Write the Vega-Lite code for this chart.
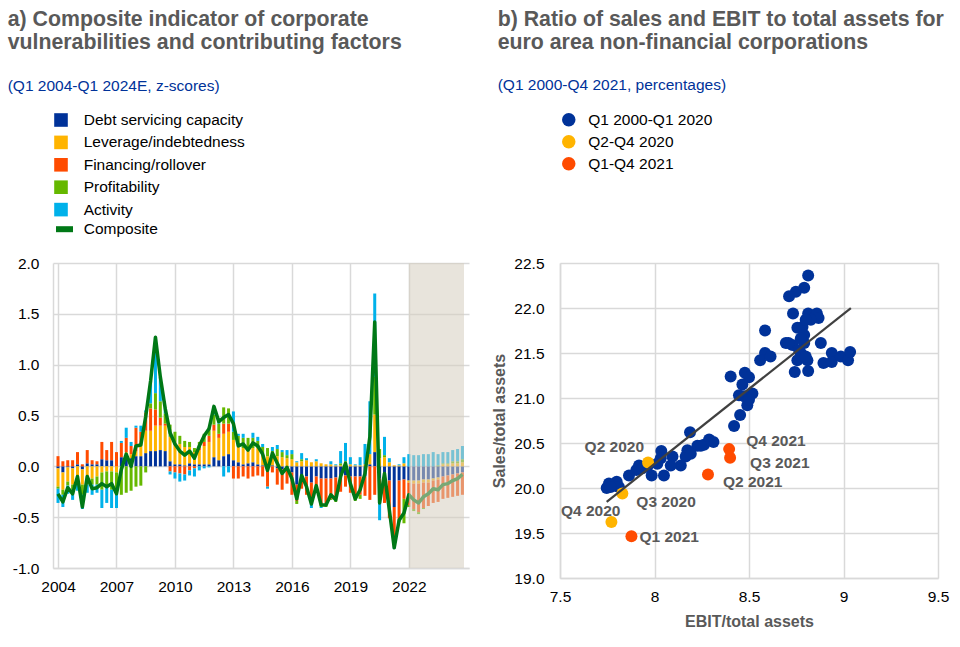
{
  "$schema": "https://vega.github.io/schema/vega-lite/v6.json",
  "background": "white",
  "padding": {"left": 7, "top": 8, "right": 5, "bottom": 5},
  "columns": 2,
  "align": "none",
  "spacing": 22,
  "resolve": {
    "scale": {"color": "independent", "stroke": "independent", "x": "independent", "y": "independent"},
    "legend": {"color": "independent", "stroke": "independent"}
  },
  "datasets": {
    "factors": [
      {"key": "debt", "factor": "Debt servicing capacity", "ord": 1},
      {"key": "lev", "factor": "Leverage/indebtedness", "ord": 2},
      {"key": "fin", "factor": "Financing/rollover", "ord": 3},
      {"key": "prof", "factor": "Profitability", "ord": 4},
      {"key": "act", "factor": "Activity", "ord": 5}
    ],
    "quarters": [
      {"year":2004,"debt":-0.02,"lev":-0.18,"fin":0.10,"prof":-0.02,"act":-0.14,"comp":-0.27},
      {"year":2004.25,"debt":-0.06,"lev":-0.17,"fin":0.05,"prof":-0.05,"act":-0.12,"comp":-0.35},
      {"year":2004.5,"debt":-0.01,"lev":-0.14,"fin":0.06,"prof":-0.04,"act":-0.08,"comp":-0.21},
      {"year":2004.75,"debt":-0.02,"lev":-0.16,"fin":0.06,"prof":-0.05,"act":-0.10,"comp":-0.27},
      {"year":2005,"debt":0.02,"lev":-0.14,"fin":0.12,"prof":-0.02,"act":-0.08,"comp":-0.10},
      {"year":2005.25,"debt":-0.03,"lev":-0.15,"fin":0.02,"prof":-0.10,"act":-0.14,"comp":-0.40},
      {"year":2005.5,"debt":0.03,"lev":-0.14,"fin":0.13,"prof":-0.04,"act":-0.08,"comp":-0.10},
      {"year":2005.75,"debt":0.02,"lev":-0.12,"fin":0.04,"prof":-0.06,"act":-0.10,"comp":-0.22},
      {"year":2006,"debt":0.02,"lev":-0.10,"fin":0.03,"prof":-0.08,"act":-0.08,"comp":-0.21},
      {"year":2006.25,"debt":0.07,"lev":-0.06,"fin":0.17,"prof":-0.17,"act":-0.18,"comp":-0.17},
      {"year":2006.5,"debt":0.06,"lev":-0.05,"fin":0.10,"prof":-0.14,"act":-0.17,"comp":-0.20},
      {"year":2006.75,"debt":0.06,"lev":-0.05,"fin":0.18,"prof":-0.18,"act":-0.18,"comp":-0.17},
      {"year":2007,"debt":0.00,"lev":-0.06,"fin":0.14,"prof":-0.17,"act":-0.18,"comp":-0.27},
      {"year":2007.25,"debt":0.09,"lev":0.00,"fin":0.14,"prof":-0.28,"act":0.02,"comp":-0.03},
      {"year":2007.5,"debt":0.09,"lev":0.05,"fin":0.14,"prof":-0.26,"act":0.10,"comp":0.12},
      {"year":2007.75,"debt":0.08,"lev":0.04,"fin":0.08,"prof":-0.24,"act":0.04,"comp":0.00},
      {"year":2008,"debt":0.10,"lev":0.05,"fin":0.23,"prof":-0.20,"act":0.02,"comp":0.20},
      {"year":2008.25,"debt":0.10,"lev":0.12,"fin":0.12,"prof":-0.19,"act":0.06,"comp":0.21},
      {"year":2008.5,"debt":0.13,"lev":0.22,"fin":0.18,"prof":-0.06,"act":0.02,"comp":0.49},
      {"year":2008.75,"debt":0.15,"lev":0.20,"fin":0.22,"prof":0.05,"act":0.22,"comp":0.84},
      {"year":2009,"debt":0.15,"lev":0.25,"fin":0.16,"prof":0.16,"act":0.55,"comp":1.27},
      {"year":2009.25,"debt":0.16,"lev":0.24,"fin":0.08,"prof":0.16,"act":0.24,"comp":0.88},
      {"year":2009.5,"debt":0.15,"lev":0.25,"fin":0.02,"prof":0.10,"act":0.05,"comp":0.57},
      {"year":2009.75,"debt":0.05,"lev":0.24,"fin":-0.05,"prof":0.12,"act":-0.03,"comp":0.33},
      {"year":2010,"debt":0.02,"lev":0.22,"fin":-0.06,"prof":0.10,"act":-0.06,"comp":0.22},
      {"year":2010.25,"debt":0.02,"lev":0.20,"fin":-0.07,"prof":0.08,"act":-0.08,"comp":0.15},
      {"year":2010.5,"debt":0.01,"lev":0.18,"fin":-0.08,"prof":0.06,"act":-0.06,"comp":0.11},
      {"year":2010.75,"debt":0.03,"lev":0.16,"fin":-0.04,"prof":0.05,"act":-0.05,"comp":0.15},
      {"year":2011,"debt":0.02,"lev":0.12,"fin":-0.02,"prof":0.04,"act":-0.08,"comp":0.08},
      {"year":2011.25,"debt":0.02,"lev":0.14,"fin":0.02,"prof":0.06,"act":-0.04,"comp":0.20},
      {"year":2011.5,"debt":0.02,"lev":0.18,"fin":0.04,"prof":0.08,"act":-0.02,"comp":0.30},
      {"year":2011.75,"debt":0.02,"lev":0.22,"fin":0.06,"prof":0.08,"act":-0.01,"comp":0.37},
      {"year":2012,"debt":0.09,"lev":0.26,"fin":0.06,"prof":0.10,"act":0.08,"comp":0.59},
      {"year":2012.25,"debt":0.06,"lev":0.22,"fin":0.04,"prof":0.10,"act":0.02,"comp":0.44},
      {"year":2012.5,"debt":0.10,"lev":0.22,"fin":0.10,"prof":0.16,"act":-0.10,"comp":0.48},
      {"year":2012.75,"debt":0.12,"lev":0.22,"fin":0.08,"prof":0.15,"act":-0.06,"comp":0.51},
      {"year":2013,"debt":0.06,"lev":0.20,"fin":-0.12,"prof":0.08,"act":0.20,"comp":0.42},
      {"year":2013.25,"debt":0.04,"lev":0.16,"fin":-0.12,"prof":0.10,"act":0.02,"comp":0.20},
      {"year":2013.5,"debt":0.02,"lev":0.16,"fin":-0.10,"prof":0.10,"act":0.04,"comp":0.22},
      {"year":2013.75,"debt":0.03,"lev":0.14,"fin":-0.12,"prof":0.11,"act":0.00,"comp":0.16},
      {"year":2014,"debt":0.04,"lev":0.14,"fin":-0.10,"prof":0.10,"act":0.05,"comp":0.23},
      {"year":2014.25,"debt":0.02,"lev":0.16,"fin":-0.09,"prof":0.07,"act":0.04,"comp":0.20},
      {"year":2014.5,"debt":0.01,"lev":0.12,"fin":-0.10,"prof":0.06,"act":0.03,"comp":0.12},
      {"year":2014.75,"debt":0.00,"lev":0.10,"fin":-0.20,"prof":0.08,"act":-0.02,"comp":-0.04},
      {"year":2015,"debt":0.01,"lev":0.10,"fin":-0.06,"prof":0.04,"act":0.04,"comp":0.13},
      {"year":2015.25,"debt":-0.02,"lev":0.10,"fin":-0.16,"prof":0.07,"act":0.04,"comp":0.03},
      {"year":2015.5,"debt":-0.03,"lev":0.09,"fin":-0.20,"prof":0.05,"act":0.02,"comp":-0.07},
      {"year":2015.75,"debt":-0.04,"lev":0.08,"fin":-0.13,"prof":0.03,"act":0.05,"comp":-0.01},
      {"year":2016,"debt":-0.06,"lev":0.07,"fin":-0.22,"prof":0.05,"act":0.04,"comp":-0.12},
      {"year":2016.25,"debt":-0.18,"lev":0.04,"fin":-0.16,"prof":-0.03,"act":0.01,"comp":-0.32},
      {"year":2016.5,"debt":-0.12,"lev":0.05,"fin":-0.10,"prof":0.02,"act":0.06,"comp":-0.09},
      {"year":2016.75,"debt":-0.10,"lev":0.06,"fin":-0.18,"prof":0.00,"act":0.02,"comp":-0.20},
      {"year":2017,"debt":-0.16,"lev":0.04,"fin":-0.20,"prof":0.00,"act":-0.05,"comp":-0.37},
      {"year":2017.25,"debt":-0.10,"lev":0.05,"fin":-0.16,"prof":0.00,"act":0.02,"comp":-0.19},
      {"year":2017.5,"debt":-0.12,"lev":0.03,"fin":-0.26,"prof":-0.02,"act":-0.01,"comp":-0.38},
      {"year":2017.75,"debt":-0.12,"lev":0.02,"fin":-0.26,"prof":-0.02,"act":0.00,"comp":-0.38},
      {"year":2018,"debt":-0.12,"lev":0.02,"fin":-0.20,"prof":-0.01,"act":0.03,"comp":-0.28},
      {"year":2018.25,"debt":-0.11,"lev":0.01,"fin":-0.22,"prof":-0.02,"act":0.01,"comp":-0.33},
      {"year":2018.5,"debt":-0.10,"lev":0.01,"fin":-0.15,"prof":0.02,"act":0.12,"comp":-0.10},
      {"year":2018.75,"debt":-0.09,"lev":0.02,"fin":-0.11,"prof":0.03,"act":0.18,"comp":0.03},
      {"year":2019,"debt":-0.10,"lev":0.02,"fin":-0.16,"prof":0.00,"act":0.07,"comp":-0.17},
      {"year":2019.25,"debt":-0.10,"lev":0.01,"fin":-0.20,"prof":-0.04,"act":0.01,"comp":-0.32},
      {"year":2019.5,"debt":-0.10,"lev":0.01,"fin":-0.18,"prof":-0.04,"act":0.08,"comp":-0.23},
      {"year":2019.75,"debt":-0.10,"lev":0.02,"fin":-0.19,"prof":0.00,"act":0.20,"comp":-0.07},
      {"year":2020,"debt":0.02,"lev":0.10,"fin":-0.33,"prof":0.00,"act":0.52,"comp":0.29},
      {"year":2020.25,"debt":0.14,"lev":0.37,"fin":-0.28,"prof":0.37,"act":0.82,"comp":1.42},
      {"year":2020.5,"debt":-0.12,"lev":0.08,"fin":-0.10,"prof":0.09,"act":-0.31,"comp":-0.36},
      {"year":2020.75,"debt":-0.14,"lev":0.09,"fin":-0.22,"prof":0.02,"act":0.18,"comp":-0.07},
      {"year":2021,"debt":-0.14,"lev":0.04,"fin":-0.37,"prof":0.00,"act":0.04,"comp":-0.43},
      {"year":2021.25,"debt":-0.40,"lev":0.01,"fin":-0.38,"prof":-0.01,"act":-0.02,"comp":-0.80},
      {"year":2021.5,"debt":-0.14,"lev":0.01,"fin":-0.38,"prof":-0.03,"act":0.01,"comp":-0.53},
      {"year":2021.75,"debt":-0.13,"lev":0.03,"fin":-0.19,"prof":-0.24,"act":0.06,"comp":-0.46},
      {"year":2022,"debt":-0.14,"lev":-0.02,"fin":-0.22,"prof":-0.02,"act":0.12,"comp":-0.28},
      {"year":2022.25,"debt":-0.14,"lev":-0.03,"fin":-0.25,"prof":-0.02,"act":0.11,"comp":-0.33},
      {"year":2022.5,"debt":-0.14,"lev":-0.03,"fin":-0.28,"prof":-0.02,"act":0.11,"comp":-0.36},
      {"year":2022.75,"debt":-0.13,"lev":-0.03,"fin":-0.25,"prof":-0.01,"act":0.12,"comp":-0.30},
      {"year":2023,"debt":-0.13,"lev":-0.03,"fin":-0.23,"prof":0.00,"act":0.12,"comp":-0.27},
      {"year":2023.25,"debt":-0.12,"lev":-0.02,"fin":-0.22,"prof":0.00,"act":0.14,"comp":-0.22},
      {"year":2023.5,"debt":-0.11,"lev":-0.02,"fin":-0.22,"prof":0.01,"act":0.11,"comp":-0.23},
      {"year":2023.75,"debt":-0.10,"lev":0.02,"fin":-0.22,"prof":0.01,"act":0.11,"comp":-0.18},
      {"year":2024,"debt":-0.09,"lev":0.02,"fin":-0.22,"prof":0.01,"act":0.11,"comp":-0.17},
      {"year":2024.25,"debt":-0.08,"lev":0.03,"fin":-0.22,"prof":0.02,"act":0.11,"comp":-0.14},
      {"year":2024.5,"debt":-0.07,"lev":0.03,"fin":-0.22,"prof":0.02,"act":0.12,"comp":-0.12},
      {"year":2024.75,"debt":-0.06,"lev":0.04,"fin":-0.22,"prof":0.03,"act":0.13,"comp":-0.08}
    ],
    "scatter": [
      {"ebit":8.813,"sales":22.36,"period":"Q1 2000-Q1 2020"},
      {"ebit":8.792,"sales":22.225,"period":"Q1 2000-Q1 2020"},
      {"ebit":8.748,"sales":22.18,"period":"Q1 2000-Q1 2020"},
      {"ebit":8.712,"sales":22.13,"period":"Q1 2000-Q1 2020"},
      {"ebit":8.733,"sales":21.94,"period":"Q1 2000-Q1 2020"},
      {"ebit":8.813,"sales":21.94,"period":"Q1 2000-Q1 2020"},
      {"ebit":8.859,"sales":21.94,"period":"Q1 2000-Q1 2020"},
      {"ebit":8.868,"sales":21.89,"period":"Q1 2000-Q1 2020"},
      {"ebit":8.827,"sales":21.87,"period":"Q1 2000-Q1 2020"},
      {"ebit":8.783,"sales":21.79,"period":"Q1 2000-Q1 2020"},
      {"ebit":8.756,"sales":21.78,"period":"Q1 2000-Q1 2020"},
      {"ebit":8.792,"sales":21.70,"period":"Q1 2000-Q1 2020"},
      {"ebit":8.585,"sales":21.75,"period":"Q1 2000-Q1 2020"},
      {"ebit":8.880,"sales":21.61,"period":"Q1 2000-Q1 2020"},
      {"ebit":8.695,"sales":21.61,"period":"Q1 2000-Q1 2020"},
      {"ebit":8.730,"sales":21.59,"period":"Q1 2000-Q1 2020"},
      {"ebit":8.792,"sales":21.61,"period":"Q1 2000-Q1 2020"},
      {"ebit":8.774,"sales":21.50,"period":"Q1 2000-Q1 2020"},
      {"ebit":8.756,"sales":21.42,"period":"Q1 2000-Q1 2020"},
      {"ebit":8.809,"sales":21.42,"period":"Q1 2000-Q1 2020"},
      {"ebit":8.742,"sales":21.29,"period":"Q1 2000-Q1 2020"},
      {"ebit":8.813,"sales":21.30,"period":"Q1 2000-Q1 2020"},
      {"ebit":8.894,"sales":21.39,"period":"Q1 2000-Q1 2020"},
      {"ebit":8.938,"sales":21.50,"period":"Q1 2000-Q1 2020"},
      {"ebit":8.938,"sales":21.40,"period":"Q1 2000-Q1 2020"},
      {"ebit":8.986,"sales":21.46,"period":"Q1 2000-Q1 2020"},
      {"ebit":9.024,"sales":21.42,"period":"Q1 2000-Q1 2020"},
      {"ebit":9.035,"sales":21.51,"period":"Q1 2000-Q1 2020"},
      {"ebit":8.585,"sales":21.50,"period":"Q1 2000-Q1 2020"},
      {"ebit":8.559,"sales":21.42,"period":"Q1 2000-Q1 2020"},
      {"ebit":8.614,"sales":21.46,"period":"Q1 2000-Q1 2020"},
      {"ebit":8.403,"sales":21.24,"period":"Q1 2000-Q1 2020"},
      {"ebit":8.478,"sales":21.28,"period":"Q1 2000-Q1 2020"},
      {"ebit":8.500,"sales":21.23,"period":"Q1 2000-Q1 2020"},
      {"ebit":8.465,"sales":21.15,"period":"Q1 2000-Q1 2020"},
      {"ebit":8.447,"sales":21.03,"period":"Q1 2000-Q1 2020"},
      {"ebit":8.518,"sales":21.05,"period":"Q1 2000-Q1 2020"},
      {"ebit":8.491,"sales":20.92,"period":"Q1 2000-Q1 2020"},
      {"ebit":8.453,"sales":20.81,"period":"Q1 2000-Q1 2020"},
      {"ebit":8.421,"sales":20.69,"period":"Q1 2000-Q1 2020"},
      {"ebit":8.188,"sales":20.62,"period":"Q1 2000-Q1 2020"},
      {"ebit":8.289,"sales":20.54,"period":"Q1 2000-Q1 2020"},
      {"ebit":8.312,"sales":20.51,"period":"Q1 2000-Q1 2020"},
      {"ebit":8.262,"sales":20.48,"period":"Q1 2000-Q1 2020"},
      {"ebit":8.227,"sales":20.47,"period":"Q1 2000-Q1 2020"},
      {"ebit":8.174,"sales":20.42,"period":"Q1 2000-Q1 2020"},
      {"ebit":8.165,"sales":20.35,"period":"Q1 2000-Q1 2020"},
      {"ebit":8.139,"sales":20.25,"period":"Q1 2000-Q1 2020"},
      {"ebit":8.095,"sales":20.35,"period":"Q1 2000-Q1 2020"},
      {"ebit":8.086,"sales":20.25,"period":"Q1 2000-Q1 2020"},
      {"ebit":8.036,"sales":20.41,"period":"Q1 2000-Q1 2020"},
      {"ebit":8.033,"sales":20.33,"period":"Q1 2000-Q1 2020"},
      {"ebit":8.050,"sales":20.14,"period":"Q1 2000-Q1 2020"},
      {"ebit":7.985,"sales":20.14,"period":"Q1 2000-Q1 2020"},
      {"ebit":7.962,"sales":20.24,"period":"Q1 2000-Q1 2020"},
      {"ebit":7.918,"sales":20.25,"period":"Q1 2000-Q1 2020"},
      {"ebit":7.904,"sales":20.20,"period":"Q1 2000-Q1 2020"},
      {"ebit":7.865,"sales":20.14,"period":"Q1 2000-Q1 2020"},
      {"ebit":7.800,"sales":20.07,"period":"Q1 2000-Q1 2020"},
      {"ebit":7.759,"sales":20.05,"period":"Q1 2000-Q1 2020"},
      {"ebit":7.747,"sales":20.00,"period":"Q1 2000-Q1 2020"},
      {"ebit":7.812,"sales":20.01,"period":"Q1 2000-Q1 2020"},
      {"ebit":8.192,"sales":20.38,"period":"Q1 2000-Q1 2020"},
      {"ebit":8.245,"sales":20.47,"period":"Q1 2000-Q1 2020"},
      {"ebit":8.015,"sales":20.27,"period":"Q1 2000-Q1 2020"},
      {"ebit":7.936,"sales":20.22,"period":"Q1 2000-Q1 2020"},
      {"ebit":7.768,"sales":20.01,"period":"Q1 2000-Q1 2020"},
      {"ebit":8.774,"sales":21.66,"period":"Q1 2000-Q1 2020"},
      {"ebit":8.765,"sales":21.53,"period":"Q1 2000-Q1 2020"},
      {"ebit":8.800,"sales":21.87,"period":"Q1 2000-Q1 2020"},
      {"ebit":8.709,"sales":21.61,"period":"Q1 2000-Q1 2020"},
      {"ebit":8.800,"sales":21.46,"period":"Q1 2000-Q1 2020"},
      {"ebit":8.474,"sales":21.02,"period":"Q1 2000-Q1 2020"},
      {"ebit":8.500,"sales":20.98,"period":"Q1 2000-Q1 2020"},
      {"ebit":7.966,"sales":20.284,"period":"Q2-Q4 2020","label":"Q2 2020"},
      {"ebit":7.830,"sales":19.939,"period":"Q2-Q4 2020","label":"Q3 2020"},
      {"ebit":7.772,"sales":19.623,"period":"Q2-Q4 2020","label":"Q4 2020"},
      {"ebit":7.878,"sales":19.464,"period":"Q1-Q4 2021","label":"Q1 2021"},
      {"ebit":8.283,"sales":20.150,"period":"Q1-Q4 2021","label":"Q2 2021"},
      {"ebit":8.400,"sales":20.336,"period":"Q1-Q4 2021","label":"Q3 2021"},
      {"ebit":8.395,"sales":20.432,"period":"Q1-Q4 2021","label":"Q4 2021"}
    ],
    "fit": [
      {"ebit": 7.747, "sales": 19.846},
      {"ebit": 9.039, "sales": 21.999}
    ],
    "forecast": [
      {"from": 2022, "to": 2024.83}
    ]
  },
  "concat": [
    {
      "width": 416,
      "height": 305,
      "title": {
        "text": ["a) Composite indicator of corporate", "vulnerabilities and contributing factors"],
        "subtitle": "(Q1 2004-Q1 2024E, z-scores)",
        "anchor": "start",
        "frame": "group",
        "dx": -45.3,
        "offset": 18
      },
      "resolve": {"scale": {"color": "independent", "stroke": "independent"}, "legend": {"color": "independent", "stroke": "independent"}},
      "layer": [
        {
          "data": {"name": "quarters"},
          "transform": [
            {"fold": ["debt", "lev", "fin", "prof", "act"], "as": ["key", "value"]},
            {"lookup": "key", "from": {"data": {"name": "factors"}, "key": "key", "fields": ["factor", "ord"]}}
          ],
          "mark": {"type": "bar", "size": 3},
          "encoding": {
            "x": {
              "field": "year", "type": "quantitative",
              "scale": {"domain": [2004, 2024.83], "nice": false, "zero": false},
              "axis": {"values": [2004, 2007, 2010, 2013, 2016, 2019, 2022], "format": "d", "title": null, "grid": true, "labelFlush": false, "labelPadding": 11}
            },
            "y": {
              "field": "value", "type": "quantitative", "stack": "zero",
              "scale": {"domain": [-1, 2], "nice": false, "zero": false},
              "axis": {"values": [-1, -0.5, 0, 0.5, 1, 1.5, 2], "format": ".1f", "labelExpr": "replace(datum.label, '\u2212', '-')", "title": null, "grid": true, "labelPadding": 14}
            },
            "color": {
              "field": "factor", "type": "nominal",
              "scale": {
                "domain": ["Debt servicing capacity", "Leverage/indebtedness", "Financing/rollover", "Profitability", "Activity"],
                "range": ["#003299", "#FFB400", "#FF4B00", "#65B800", "#00B1EA"]
              },
              "legend": {"title": null, "orient": "none", "legendX": 0, "legendY": -151, "symbolType": "square", "symbolSize": 185, "labelOffset": 14.7, "rowPadding": 5.4, "labelLimit": 300}
            },
            "order": {"field": "ord", "type": "quantitative", "sort": "ascending"}
          }
        },
        {
          "data": {"name": "quarters"},
          "mark": {"type": "line", "strokeWidth": 3.5, "strokeJoin": "round"},
          "encoding": {
            "x": {"field": "year", "type": "quantitative", "scale": {"domain": [2004, 2024.83], "nice": false, "zero": false}},
            "y": {"field": "comp", "type": "quantitative"},
            "stroke": {
              "datum": "Composite", "type": "nominal",
              "scale": {"range": ["#007816"]},
              "legend": {"title": null, "orient": "none", "legendX": 0, "legendY": -45.3, "symbolType": "stroke", "symbolSize": 289, "symbolStrokeWidth": 6, "labelOffset": 7.7, "labelLimit": 300}
            }
          }
        },
        {
          "data": {"name": "forecast"},
          "mark": {"type": "rect", "fill": "#d6cfc1", "opacity": 0.56},
          "encoding": {
            "x": {"field": "from", "type": "quantitative", "scale": {"domain": [2004, 2024.83], "nice": false, "zero": false}},
            "x2": {"field": "to"}
          }
        }
      ]
    },
    {
      "width": 378,
      "height": 315,
      "title": {
        "text": ["b) Ratio of sales and EBIT to total assets for", "euro area non-financial corporations"],
        "subtitle": "(Q1 2000-Q4 2021, percentages)",
        "anchor": "start",
        "frame": "group",
        "dx": -62.3,
        "offset": 18.35
      },
      "layer": [
        {
          "data": {"name": "scatter"},
          "mark": {"type": "circle", "size": 144, "opacity": 1},
          "encoding": {
            "x": {
              "field": "ebit", "type": "quantitative",
              "scale": {"domain": [7.5, 9.5], "nice": false, "zero": false},
              "axis": {"values": [7.5, 8, 8.5, 9, 9.5], "format": "~f", "title": "EBIT/total assets", "grid": true, "labelFlush": false, "labelPadding": 11, "titlePadding": 9}
            },
            "y": {
              "field": "sales", "type": "quantitative",
              "scale": {"domain": [19, 22.5], "nice": false, "zero": false},
              "axis": {"values": [19, 19.5, 20, 20.5, 21, 21.5, 22, 22.5], "format": ".1f", "title": "Sales/total assets", "grid": true, "labelPadding": 16, "titlePadding": 6}
            },
            "color": {
              "field": "period", "type": "nominal",
              "scale": {"domain": ["Q1 2000-Q1 2020", "Q2-Q4 2020", "Q1-Q4 2021"], "range": ["#003299", "#FFB400", "#FF4B00"]},
              "legend": {"title": null, "orient": "none", "legendX": 1, "legendY": -150.9, "symbolType": "circle", "symbolSize": 182, "symbolOpacity": 1, "labelOffset": 11.7, "rowPadding": 5, "labelLimit": 300}
            }
          }
        },
        {
          "data": {"name": "fit"},
          "mark": {"type": "line", "color": "#404040", "strokeWidth": 2.2},
          "encoding": {
            "x": {"field": "ebit", "type": "quantitative"},
            "y": {"field": "sales", "type": "quantitative"}
          }
        },
        {
          "data": {"name": "scatter"},
          "transform": [{"filter": "datum.label === 'Q2 2020'"}],
          "mark": {"type": "text", "align": "right", "baseline": "middle", "dx": -4, "dy": -15, "fontSize": 15.5, "fontWeight": "bold", "color": "#595959"},
          "encoding": {"x": {"field": "ebit", "type": "quantitative"}, "y": {"field": "sales", "type": "quantitative"}, "text": {"field": "label"}}
        },
        {
          "data": {"name": "scatter"},
          "transform": [{"filter": "datum.label === 'Q3 2020'"}],
          "mark": {"type": "text", "align": "left", "baseline": "middle", "dx": 14, "dy": 9, "fontSize": 15.5, "fontWeight": "bold", "color": "#595959"},
          "encoding": {"x": {"field": "ebit", "type": "quantitative"}, "y": {"field": "sales", "type": "quantitative"}, "text": {"field": "label"}}
        },
        {
          "data": {"name": "scatter"},
          "transform": [{"filter": "datum.label === 'Q4 2020'"}],
          "mark": {"type": "text", "align": "right", "baseline": "middle", "dx": 9, "dy": -11, "fontSize": 15.5, "fontWeight": "bold", "color": "#595959"},
          "encoding": {"x": {"field": "ebit", "type": "quantitative"}, "y": {"field": "sales", "type": "quantitative"}, "text": {"field": "label"}}
        },
        {
          "data": {"name": "scatter"},
          "transform": [{"filter": "datum.label === 'Q1 2021'"}],
          "mark": {"type": "text", "align": "left", "baseline": "middle", "dx": 8, "dy": 1, "fontSize": 15.5, "fontWeight": "bold", "color": "#595959"},
          "encoding": {"x": {"field": "ebit", "type": "quantitative"}, "y": {"field": "sales", "type": "quantitative"}, "text": {"field": "label"}}
        },
        {
          "data": {"name": "scatter"},
          "transform": [{"filter": "datum.label === 'Q2 2021'"}],
          "mark": {"type": "text", "align": "left", "baseline": "middle", "dx": 15, "dy": 7, "fontSize": 15.5, "fontWeight": "bold", "color": "#595959"},
          "encoding": {"x": {"field": "ebit", "type": "quantitative"}, "y": {"field": "sales", "type": "quantitative"}, "text": {"field": "label"}}
        },
        {
          "data": {"name": "scatter"},
          "transform": [{"filter": "datum.label === 'Q3 2021'"}],
          "mark": {"type": "text", "align": "left", "baseline": "middle", "dx": 20, "dy": 5, "fontSize": 15.5, "fontWeight": "bold", "color": "#595959"},
          "encoding": {"x": {"field": "ebit", "type": "quantitative"}, "y": {"field": "sales", "type": "quantitative"}, "text": {"field": "label"}}
        },
        {
          "data": {"name": "scatter"},
          "transform": [{"filter": "datum.label === 'Q4 2021'"}],
          "mark": {"type": "text", "align": "left", "baseline": "middle", "dx": 17, "dy": -8, "fontSize": 15.5, "fontWeight": "bold", "color": "#595959"},
          "encoding": {"x": {"field": "ebit", "type": "quantitative"}, "y": {"field": "sales", "type": "quantitative"}, "text": {"field": "label"}}
        }
      ]
    }
  ],
  "config": {
    "font": "Liberation Sans",
    "view": {"stroke": null},
    "axis": {
      "labelFont": "Liberation Sans", "labelFontSize": 15.5, "labelColor": "#000000",
      "gridColor": "#d9d9d9", "gridWidth": 1.5, "domainColor": "#d9d9d9", "domainWidth": 1.5,
      "ticks": false,
      "titleFont": "Liberation Sans", "titleFontSize": 16, "titleFontWeight": "bold", "titleColor": "#595959"
    },
    "legend": {"labelFont": "Liberation Sans", "labelFontSize": 15.5, "labelColor": "#000000", "padding": 0},
    "title": {
      "font": "Liberation Sans", "fontSize": 21.3, "fontWeight": "bold", "color": "#595959", "lineHeight": 23,
      "subtitleFont": "Liberation Sans", "subtitleFontSize": 15.5, "subtitleColor": "#003299", "subtitlePadding": 25
    }
  }
}
